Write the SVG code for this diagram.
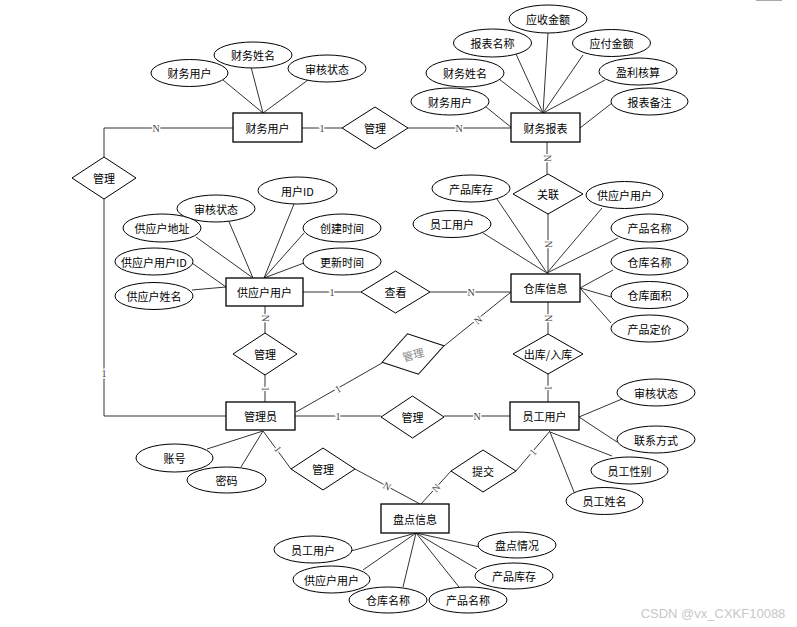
<svg xmlns="http://www.w3.org/2000/svg" width="797" height="627" viewBox="0 0 797 627">
<style>
.ent rect{fill:#fff;stroke:#000;stroke-width:1.3}
.rel polygon{fill:#fff;stroke:#000;stroke-width:1}
.att ellipse{fill:#fff;stroke:#000;stroke-width:1}
text{font-family:"Noto Sans CJK SC","Noto Sans",sans-serif;font-size:11px;fill:#000;text-anchor:middle;dominant-baseline:central}
.conn path{fill:none;stroke:#333;stroke-width:1}
.lbl{font-family:"Liberation Serif",serif;font-size:10px;fill:#444;stroke:#fff;stroke-width:3;paint-order:stroke}
.wm{font-family:"Liberation Sans",sans-serif;font-size:13px;fill:#c8c8c8}
</style>
<rect width="797" height="627" fill="#fff"/>
<line x1="756" y1="0.5" x2="782" y2="0.5" stroke="#aaa" stroke-width="1"/>

<g id="connectors" class="conn">
<path d="M302,128 H342"/>
<path d="M408,128 H511"/>
<path d="M233,128 H104 V157"/>
<path d="M104,199 V416 H226"/>
<path d="M547,142 V174"/>
<path d="M548,214 V274"/>
<path d="M303,292 H361"/>
<path d="M430,292 H511"/>
<path d="M296,412 L382,363"/>
<path d="M444,346 L511,292"/>
<path d="M265,306 V333"/>
<path d="M265,374 V402"/>
<path d="M295,416 H381"/>
<path d="M444,416 H510"/>
<path d="M548,302 V334"/>
<path d="M548,374 V402"/>
<path d="M263,431 L291,469"/>
<path d="M355,469 L420,504"/>
<path d="M451,471 L421,504"/>
<path d="M516,471 L550,431"/>
<!-- attribute lines -->
<path d="M223,80 L263,113"/>
<path d="M251,67 L263,113"/>
<path d="M308,80 L263,113"/>
<path d="M548,33 L543,113"/>
<path d="M516,54 L543,113"/>
<path d="M583,55 L543,113"/>
<path d="M499,79 L543,113"/>
<path d="M605,80 L543,113"/>
<path d="M486,107 L512,128"/>
<path d="M612,103 L580,128"/>
<path d="M227,217 L253,278"/>
<path d="M196,237 L253,278"/>
<path d="M294,204 L264,278"/>
<path d="M304,233 L264,278"/>
<path d="M304,263 L264,278"/>
<path d="M192,263 L226,287"/>
<path d="M192,290 L226,287"/>
<path d="M497,199 L547,273"/>
<path d="M483,233 L547,273"/>
<path d="M602,208 L547,273"/>
<path d="M618,238 L547,273"/>
<path d="M613,270 L580,288"/>
<path d="M611,297 L580,288"/>
<path d="M611,323 L580,288"/>
<path d="M622,399 L579,417"/>
<path d="M617,442 L579,417"/>
<path d="M612,456 L550,432"/>
<path d="M574,492 L550,432"/>
<path d="M207,449 L263,431"/>
<path d="M241,467 L263,431"/>
<path d="M351,551 L416,533"/>
<path d="M363,570 L416,533"/>
<path d="M403,587 L416,533"/>
<path d="M459,587 L416,533"/>
<path d="M477,569 L416,533"/>
<path d="M480,547 L416,533"/>
<!-- cardinality labels -->
<text class="lbl" x="322" y="128">1</text>
<text class="lbl" x="459" y="128">N</text>
<text class="lbl" x="156" y="128">N</text>
<text class="lbl" x="104" y="373">1</text>
<text class="lbl" transform="translate(547,158) rotate(90)">N</text>
<text class="lbl" transform="translate(548,244) rotate(90)">N</text>
<text class="lbl" x="332" y="292">1</text>
<text class="lbl" x="471" y="292">N</text>
<text class="lbl" transform="translate(338,389) rotate(-30)">1</text>
<text class="lbl" transform="translate(478,320) rotate(-39)">N</text>
<text class="lbl" transform="translate(265,318) rotate(90)">N</text>
<text class="lbl" transform="translate(265,389) rotate(90)">1</text>
<text class="lbl" x="338" y="416">1</text>
<text class="lbl" x="477" y="416">N</text>
<text class="lbl" transform="translate(548,318) rotate(90)">N</text>
<text class="lbl" transform="translate(548,388) rotate(90)">1</text>
<text class="lbl" transform="translate(278,449) rotate(54)">1</text>
<text class="lbl" transform="translate(387,486) rotate(28)">N</text>
<text class="lbl" transform="translate(436,488) rotate(-48)">N</text>
<text class="lbl" transform="translate(533,452) rotate(-50)">1</text>
</g>

<!-- entities -->
<g id="e-caiwuyonghu" class="ent"><rect x="233" y="113" width="69" height="29"/><text x="267.5" y="127.5">财务用户</text></g>
<g id="e-caiwubaobiao" class="ent"><rect x="511" y="113" width="69" height="29"/><text x="545.5" y="127.5">财务报表</text></g>
<g id="e-gongyinghu" class="ent"><rect x="226" y="278" width="77" height="28"/><text x="264.5" y="292">供应户用户</text></g>
<g id="e-cangku" class="ent"><rect x="511" y="274" width="69" height="28"/><text x="545.5" y="288">仓库信息</text></g>
<g id="e-guanliyuan" class="ent"><rect x="226" y="402" width="69" height="28"/><text x="260.5" y="416">管理员</text></g>
<g id="e-yuangong" class="ent"><rect x="510" y="402" width="69" height="28"/><text x="544.5" y="416">员工用户</text></g>
<g id="e-pandian" class="ent"><rect x="381" y="504" width="68" height="29"/><text x="415" y="518.5">盘点信息</text></g>

<!-- relationships -->
<g id="r-guanli1" class="rel"><polygon points="342,128 375,107 408,128 375,149"/><text x="375" y="128">管理</text></g>
<g id="r-guanli2" class="rel"><polygon points="72,178 104,157 136,178 104,199"/><text x="104" y="178">管理</text></g>
<g id="r-guanlian" class="rel"><polygon points="513,194 548,174 583,194 548,214"/><text x="548" y="194">关联</text></g>
<g id="r-chakan" class="rel"><polygon points="361,292 395.5,271 430,292 395.5,313"/><text x="395.5" y="292">查看</text></g>
<g id="r-guanli3" class="rel"><polygon points="233,354 265,333 297,354 265,375"/><text x="265" y="354">管理</text></g>
<g id="r-guanli4" class="rel" transform="translate(413,354) rotate(-15)"><polygon points="-32,0 0,-21 32,0 0,21"/><text x="0" y="0" style="fill:#888">管理</text></g>
<g id="r-churuku" class="rel"><polygon points="513,354 548,334 583,354 548,374"/><text x="548" y="354">出库/入库</text></g>
<g id="r-guanli5" class="rel"><polygon points="381,417 412.5,396 444,417 412.5,438"/><text x="412.5" y="417">管理</text></g>
<g id="r-guanli6" class="rel"><polygon points="291,469 323,448 355,469 323,490"/><text x="323" y="469">管理</text></g>
<g id="r-tijiao" class="rel"><polygon points="451,471 483,450 516,471 483,492"/><text x="483" y="471">提交</text></g>

<!-- attributes -->
<g id="a1" class="att"><ellipse cx="189.5" cy="73" rx="38.5" ry="13.5"/><text x="189.5" y="73">财务用户</text></g>
<g id="a2" class="att"><ellipse cx="253" cy="55" rx="39" ry="13"/><text x="253" y="55">财务姓名</text></g>
<g id="a3" class="att"><ellipse cx="327" cy="68.5" rx="39" ry="13.5"/><text x="327" y="68.5">审核状态</text></g>
<g id="a4" class="att"><ellipse cx="548" cy="19" rx="39" ry="14"/><text x="548" y="19">应收金额</text></g>
<g id="a5" class="att"><ellipse cx="492.5" cy="43" rx="39" ry="14"/><text x="492.5" y="43">报表名称</text></g>
<g id="a6" class="att"><ellipse cx="611.5" cy="43" rx="39" ry="13.5"/><text x="611.5" y="43">应付金额</text></g>
<g id="a7" class="att"><ellipse cx="465" cy="73" rx="39" ry="14"/><text x="465" y="73">财务姓名</text></g>
<g id="a8" class="att"><ellipse cx="638" cy="71.5" rx="39" ry="13.5"/><text x="638" y="71.5">盈利核算</text></g>
<g id="a9" class="att"><ellipse cx="450" cy="101.5" rx="39" ry="13.5"/><text x="450" y="101.5">财务用户</text></g>
<g id="a10" class="att"><ellipse cx="649.5" cy="101.5" rx="38.5" ry="13.5"/><text x="649.5" y="101.5">报表备注</text></g>
<g id="a11" class="att"><ellipse cx="216" cy="208.5" rx="39" ry="13.5"/><text x="216" y="208.5">审核状态</text></g>
<g id="a12" class="att"><ellipse cx="297.5" cy="190.5" rx="39.5" ry="13.5"/><text x="297.5" y="190.5">用户ID</text></g>
<g id="a13" class="att"><ellipse cx="162" cy="228" rx="39" ry="14"/><text x="162" y="228">供应户地址</text></g>
<g id="a14" class="att"><ellipse cx="342" cy="228" rx="39" ry="14"/><text x="342" y="228">创建时间</text></g>
<g id="a15" class="att"><ellipse cx="154" cy="261.5" rx="39" ry="13.5"/><text x="154" y="261.5">供应户用户ID</text></g>
<g id="a16" class="att"><ellipse cx="342" cy="261.5" rx="39" ry="13.5"/><text x="342" y="261.5">更新时间</text></g>
<g id="a17" class="att"><ellipse cx="154" cy="296" rx="39" ry="13.5"/><text x="154" y="296">供应户姓名</text></g>
<g id="a18" class="att"><ellipse cx="471" cy="188.5" rx="39" ry="13.5"/><text x="471" y="188.5">产品库存</text></g>
<g id="a19" class="att"><ellipse cx="624.5" cy="195" rx="38.5" ry="13.5"/><text x="624.5" y="195">供应户用户</text></g>
<g id="a20" class="att"><ellipse cx="452" cy="224" rx="39" ry="13.5"/><text x="452" y="224">员工用户</text></g>
<g id="a21" class="att"><ellipse cx="649.5" cy="228" rx="38.5" ry="14"/><text x="649.5" y="228">产品名称</text></g>
<g id="a22" class="att"><ellipse cx="649.5" cy="261.5" rx="38.5" ry="13.5"/><text x="649.5" y="261.5">仓库名称</text></g>
<g id="a23" class="att"><ellipse cx="649.5" cy="295" rx="38.5" ry="13.5"/><text x="649.5" y="295">仓库面积</text></g>
<g id="a24" class="att"><ellipse cx="649.5" cy="328.5" rx="38.5" ry="13.5"/><text x="649.5" y="328.5">产品定价</text></g>
<g id="a25" class="att"><ellipse cx="656" cy="392.5" rx="39" ry="13.5"/><text x="656" y="392.5">审核状态</text></g>
<g id="a26" class="att"><ellipse cx="656" cy="439.5" rx="39" ry="13.5"/><text x="656" y="439.5">联系方式</text></g>
<g id="a27" class="att"><ellipse cx="629.5" cy="470.5" rx="38.5" ry="13.5"/><text x="629.5" y="470.5">员工性别</text></g>
<g id="a28" class="att"><ellipse cx="604.5" cy="501" rx="38.5" ry="13.5"/><text x="604.5" y="501">员工姓名</text></g>
<g id="a29" class="att"><ellipse cx="174.5" cy="458" rx="38.5" ry="14"/><text x="174.5" y="458">账号</text></g>
<g id="a30" class="att"><ellipse cx="226.5" cy="480" rx="39.5" ry="13"/><text x="226.5" y="480">密码</text></g>
<g id="a31" class="att"><ellipse cx="313" cy="549.5" rx="39" ry="13.5"/><text x="313" y="549.5">员工用户</text></g>
<g id="a32" class="att"><ellipse cx="517" cy="545" rx="39" ry="13"/><text x="517" y="545">盘点情况</text></g>
<g id="a33" class="att"><ellipse cx="331.5" cy="579.5" rx="38.5" ry="13.5"/><text x="331.5" y="579.5">供应户用户</text></g>
<g id="a34" class="att"><ellipse cx="514" cy="576" rx="39" ry="13"/><text x="514" y="576">产品库存</text></g>
<g id="a35" class="att"><ellipse cx="388" cy="600" rx="39" ry="13"/><text x="388" y="600">仓库名称</text></g>
<g id="a36" class="att"><ellipse cx="468" cy="600" rx="39" ry="13"/><text x="468" y="600">产品名称</text></g>

<text class="wm" x="713" y="613">CSDN @vx_CXKF10088</text>
</svg>
